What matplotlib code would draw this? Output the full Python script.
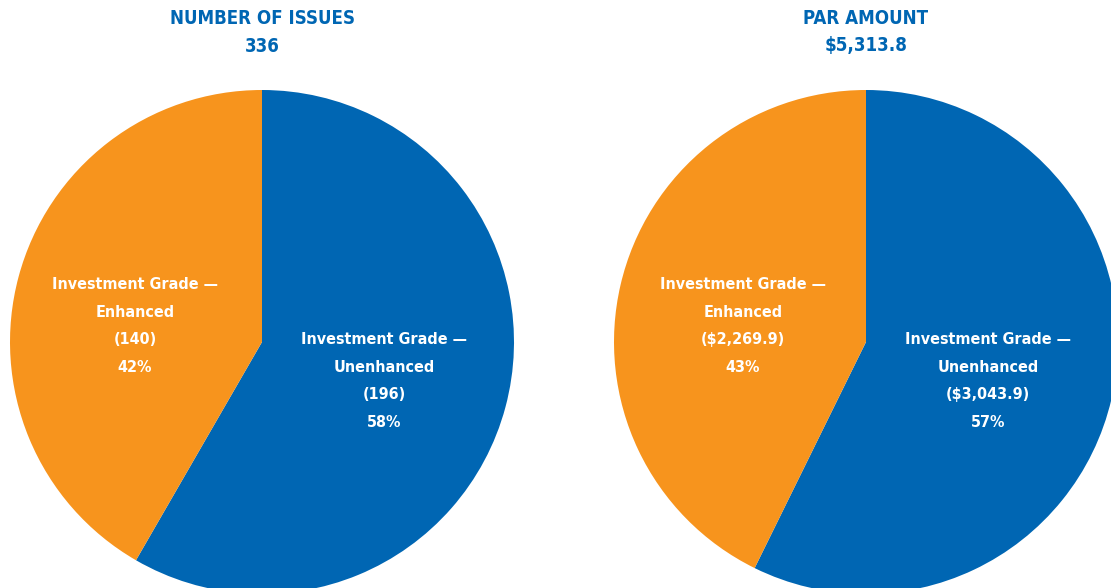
import matplotlib
matplotlib.use("Agg")
import matplotlib.pyplot as plt
from matplotlib import font_manager

W, H = 1111, 588

# data
categories = ["Investment Grade \u2014\nUnenhanced", "Investment Grade \u2014\nEnhanced"]
issues = [196, 140]
issues_pct = [58, 42]
par = [3043.9, 2269.9]
par_pct = [57, 43]
titles = ["NUMBER OF ISSUES\n336", "PAR AMOUNT\n$5,313.8"]

blue = "#0066B3"
orange = "#F7941D"

# look for a narrow face, else fall back to Liberation Sans
fonts = font_manager.fontManager.ttflist
narrow = [f for f in fonts if 'Narrow' in f.name or 'Condensed' in f.name
          or (f.stretch in ('condensed', 'semi-condensed') and f.weight in (700, 'bold'))]
if narrow:
    fam, stretch, title_fs, lab_fs = narrow[0].name, narrow[0].stretch, 13.4, 11.5
else:
    fam, stretch, title_fs, lab_fs = 'Liberation Sans', 'normal', 12.5, 12.2
plt.rcParams['font.family'] = [fam, 'DejaVu Sans']

fig = plt.figure(figsize=(W / 100, H / 100), dpi=100)


def px(x, y):
    return x / W, 1 - y / H


def draw_pie(cx, cy, r, values, title, labels, lab_pos):
    ax = fig.add_axes([(cx - r) / W, (H - cy - r) / H, 2 * r / W, 2 * r / H])
    ax.pie(values, colors=[blue, orange], startangle=90, counterclock=False,
           wedgeprops=dict(linewidth=0))
    ax.set_xlim(-1, 1)
    ax.set_ylim(-1, 1)
    ax.set_aspect('equal')
    ax.axis('off')
    x, y = px(cx, 32)
    fig.text(x, y, title, ha='center', va='center', color=blue, fontstretch=stretch,
             fontsize=title_fs, fontweight='bold', linespacing=1.6)
    for text, (lx, ly) in zip(labels, lab_pos):
        x, y = px(lx, ly)
        fig.text(x, y, text, ha='center', va='center', color='white', fontstretch=stretch,
                 fontsize=lab_fs, fontweight='bold', linespacing=2.04)


lab_issues = [f"{categories[0]}\n({issues[0]})\n{issues_pct[0]}%",
              f"{categories[1]}\n({issues[1]})\n{issues_pct[1]}%"]
lab_par = [f"{categories[0]}\n(${par[0]:,.1f})\n{par_pct[0]}%",
           f"{categories[1]}\n(${par[1]:,.1f})\n{par_pct[1]}%"]

draw_pie(262, 342, 252, issues, titles[0], lab_issues, [(384, 381), (135, 326)])
draw_pie(866, 342, 252, par, titles[1], lab_par, [(988, 381), (743, 326)])

fig.savefig("out.png", dpi=100)
